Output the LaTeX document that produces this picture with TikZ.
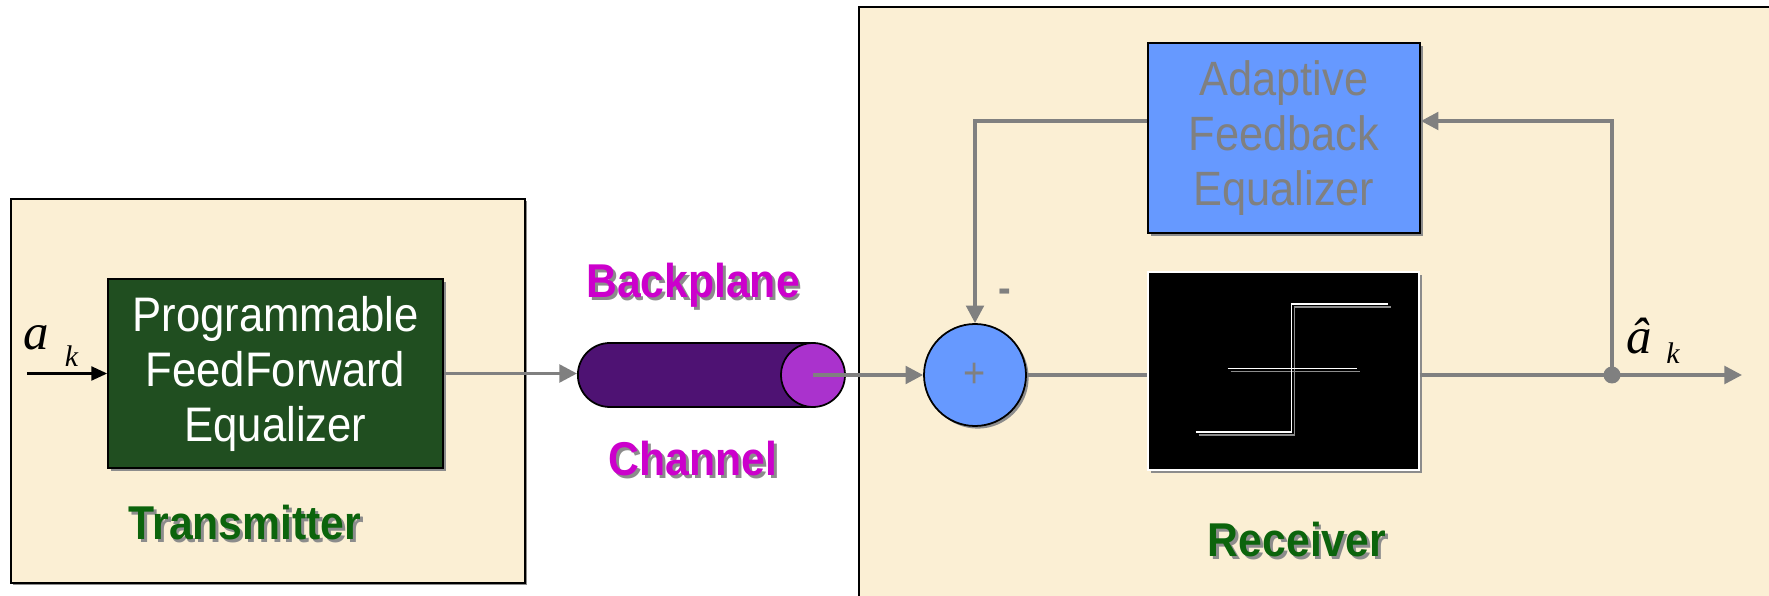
\documentclass[tikz,border=0pt]{standalone}
\usepackage{fontspec}
\setmainfont{Liberation Sans}[FakeStretch=0.9]
\newfontfamily\symfont{Liberation Serif}
\usetikzlibrary{shapes.geometric, shapes.misc, arrows.meta, shadows, positioning}

\definecolor{paper}{RGB}{251,239,212}
\definecolor{ffegreen}{RGB}{32,78,32}
\definecolor{labelgreen}{RGB}{12,100,12}
\definecolor{chanpurple}{RGB}{78,18,115}
\definecolor{chanendpurple}{RGB}{170,50,205}
\definecolor{labelmagenta}{RGB}{204,0,204}
\definecolor{dfeblue}{RGB}{102,153,255}
\definecolor{linegray}{RGB}{128,128,128}
\definecolor{shadegray}{RGB}{140,140,140}

\newcommand{\shadowtext}[1]{\rlap{\kern1.6pt\raisebox{-1.6pt}{\color{shadegray}#1}}#1}

\tikzstyle{frame} = [draw=black, line width=1.2pt, fill=paper, drop shadow={shadow xshift=1.2pt, shadow yshift=-1.2pt, fill=shadegray, opacity=1}]
\tikzstyle{boxshadow} = [drop shadow={shadow xshift=1.5pt, shadow yshift=-1.5pt, fill=shadegray, opacity=1}]
\tikzstyle{ffebox} = [rectangle, minimum width=6.7cm, minimum height=3.78cm, text centered, align=center, draw=black, line width=1pt, fill=ffegreen, text=white, font=\fontsize{27.6}{31.3}\selectfont, boxshadow]
\tikzstyle{dfebox} = [rectangle, minimum width=5.44cm, minimum height=3.8cm, text centered, align=center, draw=black, line width=1pt, fill=dfeblue, text=linegray, font=\fontsize{27.4}{31.3}\selectfont, boxshadow]
\tikzstyle{slicer} = [rectangle, minimum width=5.42cm, minimum height=3.96cm, draw=white, line width=0.6pt, fill=black, boxshadow]
\tikzstyle{channel} = [rounded rectangle, minimum width=5.46cm, minimum height=1.28cm, draw=black, line width=1pt, fill=chanpurple]
\tikzstyle{chanend} = [circle, minimum size=1.28cm, inner sep=0pt, draw=black, line width=1pt, fill=chanendpurple]
\tikzstyle{adder} = [circle, minimum size=2.04cm, inner sep=0pt, draw=black, line width=1pt, fill=dfeblue, text=linegray, font=\fontsize{24}{26}\selectfont, boxshadow]
\tikzstyle{tapdot} = [circle, minimum size=0.34cm, inner sep=0pt, fill=linegray]
\tikzstyle{blocklabel} = [font=\fontsize{27}{31}\selectfont\bfseries]
\tikzstyle{arrow} = [line width=2pt, draw=linegray, ->, >={Triangle[length=10pt, width=10pt]}]
\tikzstyle{inarrow} = [line width=1.2pt, draw=black, ->, >={Triangle[length=9pt, width=8pt]}]
\tikzstyle{line} = [line width=2pt, draw=linegray]
\tikzstyle{stepline} = [line width=1.1pt, draw=white]
\tikzstyle{stepshade} = [line width=1.1pt, draw=shadegray]

\begin{document}
\begin{tikzpicture}[node distance=2cm]
	\useasboundingbox (0,0) rectangle (35.38,11.92);
	% frames
	\draw [frame] (0.22,0.26) rectangle (10.5,7.94);
	\draw [frame] (17.18,-0.6) rectangle (36.2,11.78);

	% transmitter
	\node (ffe) [ffebox] at (5.51,4.45) {Programmable\\FeedForward\\Equalizer};
	\coordinate (inp) at (0.54,4.45);
		\draw [inarrow] (inp) -- (ffe);
	\node (alab) [font=\fontsize{29}{31}\symfont\itshape] at (0.72,5.16) {a};
	\node (klab) [font=\fontsize{17}{19}\symfont\itshape] at (1.43,4.8) {k};
	\node (txlab) [blocklabel, text=labelgreen] at (4.9,1.44) {\shadowtext{Transmitter}};

	% channel
	\node (chan) [channel] at (14.17,4.42) {};
	\node (chanend) [chanend] at (16.26,4.42) {};
		\draw [arrow] (ffe.east) -- (ffe.east -| chan.west);
	\node (bplab) [blocklabel, text=labelmagenta] at (13.86,6.18) {\shadowtext{Backplane}};
	\node (chlab) [blocklabel, text=labelmagenta] at (13.86,2.72) {\shadowtext{Channel}};

	% receiver
	\node (sum) [adder] at (19.5,4.42) {+};
		\draw [arrow] (chanend.center) -- (sum);
	\node (minus) [text=linegray, font=\fontsize{24}{26}\selectfont\bfseries] at (20.1,6.0) {-};
	\node (slice) [slicer] at (25.67,4.5) {};
		\draw [line] (sum) -- (slice.west |- sum);
	\draw [stepshade] (23.97,3.22) -- (25.89,3.22) -- (25.89,5.78) -- (27.82,5.78);
	\draw [stepshade] (24.61,4.49) -- (27.19,4.49);
	\draw [stepline] (23.91,3.28) -- (25.83,3.28) -- (25.83,5.84) -- (27.76,5.84);
	\draw [stepline] (24.55,4.55) -- (27.13,4.55);
	\node (dfe) [dfebox] at (25.68,9.16) {Adaptive\\Feedback\\Equalizer};
	\node (tap) [tapdot] at (32.24,4.42) {};
	\coordinate (out) at (34.84,4.42);
		\draw [arrow] (slice.east |- tap) -- (out);
	\coordinate (fbin) at ([yshift=0.34cm]dfe.east);
	\coordinate (fbout) at ([yshift=0.34cm]dfe.west);
		\draw [arrow] (tap.center) |- (fbin);
		\draw [arrow] (fbout) -| (sum);
	\node (ahat) [font=\fontsize{29}{31}\symfont\itshape] at (32.78,5.2) {â};
	\node (khat) [font=\fontsize{17}{19}\symfont\itshape] at (33.46,4.86) {k};
	\node (rxlab) [blocklabel, text=labelgreen] at (25.94,1.1) {\shadowtext{Receiver}};
\end{tikzpicture}
\end{document}
